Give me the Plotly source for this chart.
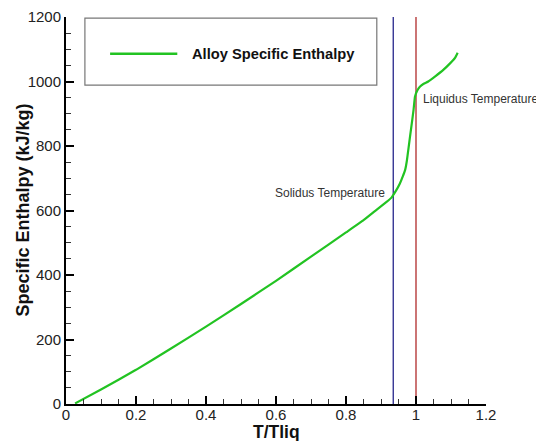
import plotly.graph_objects as go

# Data
t_ratio = [0.026, 0.1, 0.2, 0.3, 0.4, 0.5, 0.6, 0.7, 0.8, 0.85, 0.888, 0.915, 0.930,
           0.942, 0.954, 0.962, 0.969, 0.974, 0.978, 0.983, 0.988, 0.993,
           0.997, 1.004, 1.011, 1.022, 1.035, 1.055, 1.078, 1.098, 1.112, 1.119]
enthalpy = [2, 45, 106, 172, 240, 310, 382, 457, 532, 570, 603, 626, 640,
            660, 684, 705, 726, 755, 788, 830, 870, 912,
            953, 973, 984, 993, 1000, 1016, 1036, 1057, 1074, 1089]
solidus_x = 0.935
liquidus_x = 1.0
y_span = [0, 1200]
series_name = "Alloy Specific Enthalpy"

font_family = "Liberation Sans, Arial, Helvetica, sans-serif"

fig = go.Figure()
fig.add_trace(go.Scatter(x=[solidus_x, solidus_x], y=y_span, mode="lines",
                         line=dict(color="#25258c", width=1.3), showlegend=False, hoverinfo="skip"))
fig.add_trace(go.Scatter(x=[liquidus_x, liquidus_x], y=y_span, mode="lines",
                         line=dict(color="#b02a2a", width=1.3), showlegend=False, hoverinfo="skip"))
fig.add_trace(go.Scatter(x=t_ratio, y=enthalpy, mode="lines", name=series_name,
                         line=dict(color="#22c322", width=2.2, shape="spline", smoothing=0.3),
                         showlegend=False))

axis_common = dict(
    showline=True, linecolor="black", linewidth=2,
    ticks="inside", ticklen=8, tickwidth=2, tickcolor="black",
    showgrid=False, zeroline=False, mirror=False, automargin=False,
    tickfont=dict(family=font_family, size=15, color="#222"),
)
fig.update_xaxes(range=[0, 1.2], tick0=0, dtick=0.2, ticklabelstandoff=-4,
                 minor=dict(ticks="inside", ticklen=5, tickwidth=1, tickcolor="#333", dtick=0.05),
                 **axis_common)
fig.update_yaxes(range=[0, 1200], tick0=0, dtick=200,
                 minor=dict(ticks="inside", ticklen=5, tickwidth=1, tickcolor="#333", dtick=50),
                 **axis_common)

# Axis titles
fig.add_annotation(xref="paper", yref="paper", x=0.5, y=0, yshift=-28, xanchor="center", yanchor="middle",
                   text="<b>T/Tliq</b>", showarrow=False,
                   font=dict(family=font_family, size=17.5, color="#111"))
fig.add_annotation(xref="paper", yref="paper", x=0, xshift=-44, y=0.5, xanchor="center", yanchor="middle",
                   text="<b>Specific Enthalpy (kJ/kg)</b>", showarrow=False, textangle=-90,
                   font=dict(family=font_family, size=18, color="#111"))

# Manual legend box
fig.add_shape(type="rect", xref="paper", yref="paper", x0=0.045, x1=0.74, y0=0.824, y1=0.997,
              line=dict(color="#777", width=1.2), fillcolor="white", layer="above")
fig.add_shape(type="line", xref="paper", yref="paper", x0=0.105, x1=0.265, y0=0.905, y1=0.905,
              line=dict(color="#22c322", width=2.5), layer="above")
fig.add_annotation(xref="paper", yref="paper", x=0.295, y=0.905, xanchor="left", yanchor="middle",
                   text="<b>" + series_name + "</b>", showarrow=False,
                   font=dict(family=font_family, size=14.7, color="#111"))

fig.add_annotation(x=0.918, y=655, xanchor="right", yanchor="middle",
                   text="Solidus Temperature", showarrow=False,
                   font=dict(family=font_family, size=12, color="#333"))
fig.add_annotation(x=1.013, y=946, xanchor="left", yanchor="middle",
                   text="Liquidus Temperature", showarrow=False,
                   font=dict(family=font_family, size=12, color="#333"))

# Page body has an 8px margin, so the figure is sized/offset to land on the reference layout
fig.update_layout(
    width=536, height=433,
    margin=dict(l=58, r=58, t=9, b=37),
    paper_bgcolor="white", plot_bgcolor="white",
    showlegend=False,
)
fig.write_html("out.html")
